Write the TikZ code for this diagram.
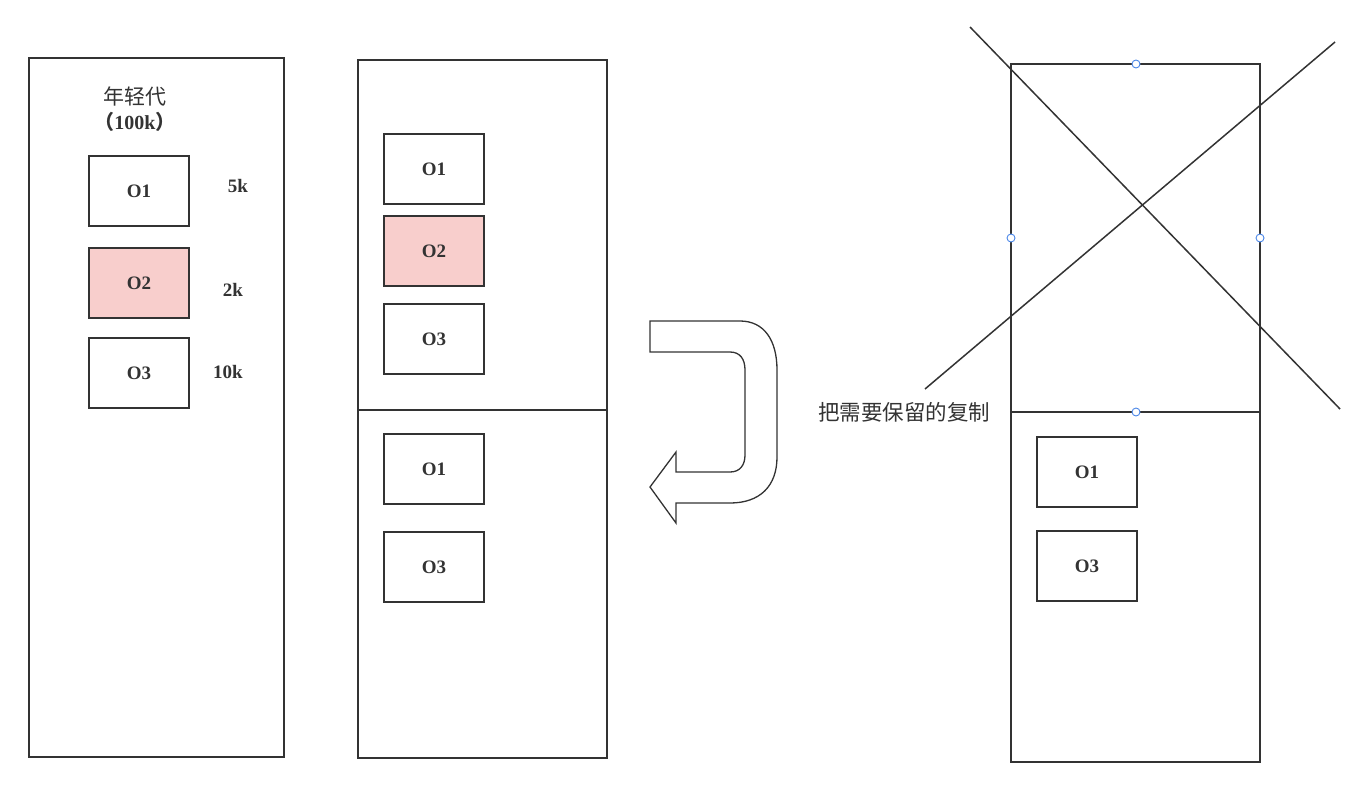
\documentclass[tikz,border=0pt]{standalone}
\usepackage{fontspec}
\setmainfont{Liberation Serif}
\newfontfamily\cjk{Noto Sans CJK SC}
\usetikzlibrary{positioning}

\definecolor{inkgray}{HTML}{333333}
\definecolor{deadpink}{HTML}{F8CECC}
\definecolor{handleblue}{HTML}{4A86E8}

\tikzset{
  panel/.style={draw=inkgray, line width=1.8pt},
  objbox/.style={draw=inkgray, line width=1.8pt, minimum width=100pt, minimum height=70pt,
    inner sep=0pt, font=\fontsize{19}{21}\selectfont\bfseries, text=inkgray},
  garbage/.style={objbox, fill=deadpink},
  sizelabel/.style={font=\fontsize{19}{21}\selectfont\bfseries, text=inkgray},
  handle/.style={circle, draw=handleblue, fill=white, line width=0.9pt, inner sep=0pt, minimum size=8pt},
}

\begin{document}
\begin{tikzpicture}[x=1pt,y=-1pt]
  \useasboundingbox (0,0) rectangle (1370,801);

  % young generation before gc
  \draw[panel] (29,58) rectangle (284,757);
  \node[text=inkgray, font=\fontsize{21}{23}\selectfont\cjk] (young) at (135,96) {年轻代};
  \node[text=inkgray, font=\fontsize{20}{22}\selectfont\bfseries] (youngsize) at (135,122) {{\cjk （}100k{\cjk ）}};
  \node[objbox] (a1) at (139,191) {O1};
  \node[garbage] (a2) at (139,283) {O2};
  \node[objbox] (a3) at (139,373) {O3};
  \node[sizelabel] (s1) at (238,186) {5k};
  \node[sizelabel] (s2) at (233,290) {2k};
  \node[sizelabel] (s3) at (228,372) {10k};

  % two halves
  \draw[panel] (358,60) rectangle (607,758);
  \draw[panel] (358,410) -- (607,410);
  \node[objbox] (b1) at (434,169) {O1};
  \node[garbage] (b2) at (434,251) {O2};
  \node[objbox] (b3) at (434,339) {O3};
  \node[objbox] (c1) at (434,469) {O1};
  \node[objbox] (c3) at (434,567) {O3};

  % u-turn arrow
  \draw[draw=inkgray, line width=1.3pt] (650,321) -- (740,321)
    .. controls (764,321) and (777,340) .. (777,370) -- (777,457)
    .. controls (777,486) and (760,503) .. (730,503) -- (676,503) -- (676,523)
    -- (650,487) -- (676,452) -- (676,472) -- (730,472)
    .. controls (740,472) and (745,465) .. (745,455) -- (745,370)
    .. controls (745,359) and (740,352) .. (730,352) -- (650,352) -- cycle;

  % after copy, old half crossed out
  \draw[panel] (1011,64) rectangle (1260,762);
  \draw[panel] (1011,412) -- (1260,412);
  \draw[inkgray, line width=1.5pt] (970,27) -- (1340,409);
  \draw[inkgray, line width=1.5pt] (1335,42) -- (925,389);
  \node[handle] (h1) at (1136,64) {};
  \node[handle] (h2) at (1011,238) {};
  \node[handle] (h3) at (1260,238) {};
  \node[handle] (h4) at (1136,412) {};
  \node[text=inkgray, font=\fontsize{21.5}{23}\selectfont\cjk] (note) at (904,412) {把需要保留的复制};
  \node[objbox] (d1) at (1087,472) {O1};
  \node[objbox] (d3) at (1087,566) {O3};
\end{tikzpicture}
\end{document}
